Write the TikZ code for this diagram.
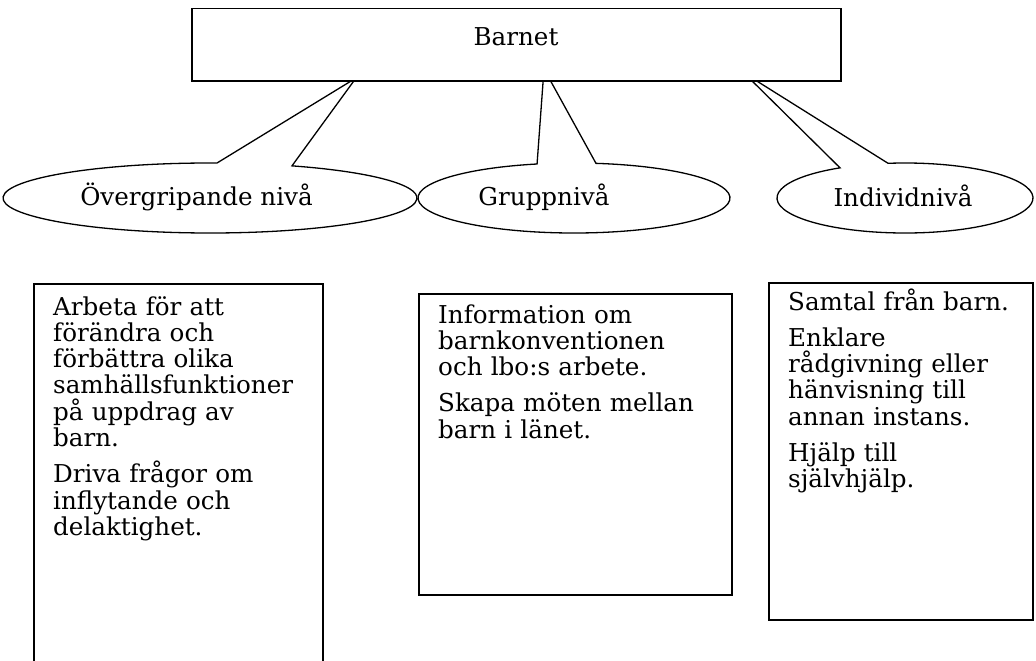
\documentclass[tikz,border=0pt]{standalone}
\usepackage{fontspec}
\setmainfont{DejaVu Serif}
\usetikzlibrary{shapes.geometric}
\begin{document}
\begin{tikzpicture}[x=1pt,y=1pt,
  txt/.style={font=\fontsize{24.6}{26.3}\selectfont, inner sep=0pt},
  para/.style={txt, anchor=base west, text width=#1, align=left},
  lbl/.style={txt, anchor=base},
  frame/.style={draw, line width=1.5pt, fill=white, inner sep=0pt, anchor=north west},
  co/.style={draw, line width=1.3pt, fill=white, line join=miter}]
\useasboundingbox (0,0) rectangle (1036,-661);
\clip (0,0) rectangle (1036,-661);
\fill[white] (0,0) rectangle (1036,-661);

% callout centres and tips
\coordinate (c1) at (210,-198);
\coordinate (c2) at (574,-198);
\coordinate (c3) at (905,-198);
\coordinate (t1) at (356,-78);
\coordinate (t2) at (544,-69);
\coordinate (t3) at (744,-73);

% oval callouts
\draw[co] (c1) ++(88.06:207 and 35) coordinate (b1)
  arc[start angle=88.06, end angle=426.67, x radius=207pt, y radius=35pt] -- (t1) -- cycle;
\draw[co] (c2) ++(103.7:156 and 35) coordinate (b2)
  arc[start angle=103.7, end angle=441.9, x radius=156pt, y radius=35pt] -- (t2) -- cycle;
\draw[co] (c3) ++(120.5:128 and 35) coordinate (b3)
  arc[start angle=120.5, end angle=457.6, x radius=128pt, y radius=35pt] -- (t3) -- cycle;

% top box
\node[frame, minimum width=649pt, minimum height=72pt] (top) at (191,-8) {};
\node[lbl] (barnet) at (516,-46) {Barnet};

% level labels
\node[lbl] (l1) at (196.5,-205) {Övergripande nivå};
\node[lbl] (l2) at (544,-205) {Gruppnivå};
\node[lbl] (l3) at (903,-206) {Individnivå};

% text boxes
\node[frame, minimum width=289pt, minimum height=420pt] (box1) at (33,-283) {};
\node[frame, minimum width=313pt, minimum height=301pt] (box2) at (418,-293) {};
\node[frame, minimum width=264pt, minimum height=337pt] (box3) at (768,-282) {};

\node[para=265pt] (txt1) at (53,-315) {Arbeta för att\\förändra och\\förbättra olika\\samhällsfunktioner\\på uppdrag av\\barn.\\[10pt]Driva frågor om\\inflytande och\\delaktighet.};
\node[para=285pt] (txt2) at (438,-323) {Information om\\barnkonventionen\\och lbo:s arbete.\\[10pt]Skapa möten mellan\\barn i länet.};
\node[para=240pt] (txt3) at (788,-310) {Samtal från barn.\\[10pt]Enklare\\rådgivning eller\\hänvisning till\\annan instans.\\[10pt]Hjälp till\\självhjälp.};
\end{tikzpicture}
\end{document}
